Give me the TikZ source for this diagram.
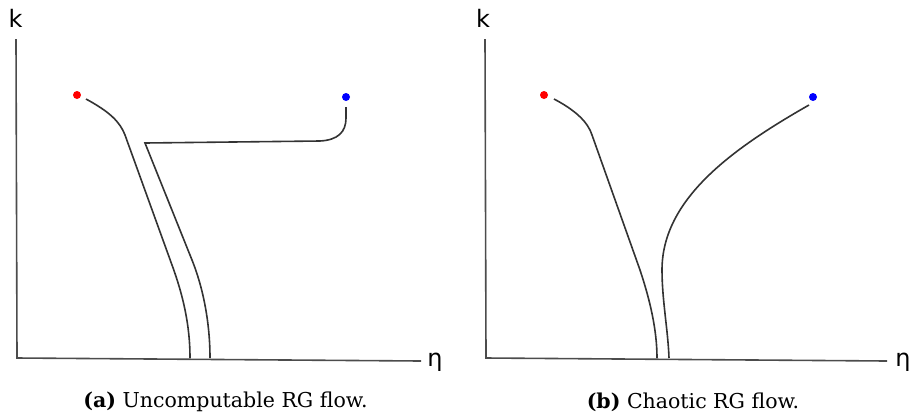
\documentclass[tikz,border=0pt]{standalone}
\usepackage{fontspec}
\newfontfamily\labfont{DejaVu Sans}
\newfontfamily\capfont{DejaVu Serif}
\begin{document}
\begin{tikzpicture}[x=1pt,y=-1pt,
  axis/.style={draw=black!70, line width=1.6pt},
  flow/.style={draw=black!80, line width=1.6pt},
  fp/.style={circle, inner sep=0pt, minimum size=8pt},
  axlab/.style={font=\labfont\fontsize{24}{24}\selectfont, inner sep=0pt},
  captext/.style={font=\capfont\fontsize{20.5}{24}\selectfont, inner sep=0pt}]
\useasboundingbox (0,0) rectangle (909,416);
% ---------- panel (a)
\coordinate (a0) at (17,358);
\coordinate (atop) at (16,39);
\coordinate (aend) at (421,361);
\draw[axis] (atop) -- (a0) -- (aend);
\node[axlab] (ak) at (15.5,18) {k};
\node[axlab] (aeta) at (435,362) {η};
\node[fp, fill=red] (ared) at (77,95) {};
\node[fp, fill=blue] (ablue) at (346,97) {};
\coordinate (ar1) at (190,358);
\coordinate (ab1) at (210,358);
\draw[flow] ([shift={(9,4)}]ared.center) .. controls (110,112) and (120,122) .. (125,135)
  -- (172,265) .. controls (183,295) and (190,325) .. (ar1);
\draw[flow] ([shift={(0,10)}]ablue.center) -- (346,118) .. controls (346,132) and (338,140) .. (320,141)
  -- (145,143) -- (192,260) .. controls (204,290) and (210,325) .. (ab1);
\node[captext] (capa) at (225.5,402) {\textbf{(a)} Uncomputable RG flow.};
% ---------- panel (b)
\coordinate (b0) at (486,358);
\coordinate (btop) at (485,39);
\coordinate (bend) at (887,361);
\draw[axis] (btop) -- (b0) -- (bend);
\node[axlab] (bk) at (483,18) {k};
\node[axlab] (beta) at (903,362) {η};
\node[fp, fill=red] (bred) at (544,95) {};
\node[fp, fill=blue] (bblue) at (813,97) {};
\coordinate (br1) at (657,358);
\coordinate (bb1) at (669,358);
\draw[flow] ([shift={(10,4)}]bred.center) .. controls (575,110) and (588,122) .. (592,135)
  -- (640,270) .. controls (650,300) and (657,330) .. (br1);
\draw[flow] ([shift={(-4,8)}]bblue.center) .. controls (730,150) and (662,200) .. (662,270)
  .. controls (662,300) and (668,330) .. (bb1);
\node[captext] (capb) at (693,402) {\textbf{(b)} Chaotic RG flow.};
\end{tikzpicture}
\end{document}
